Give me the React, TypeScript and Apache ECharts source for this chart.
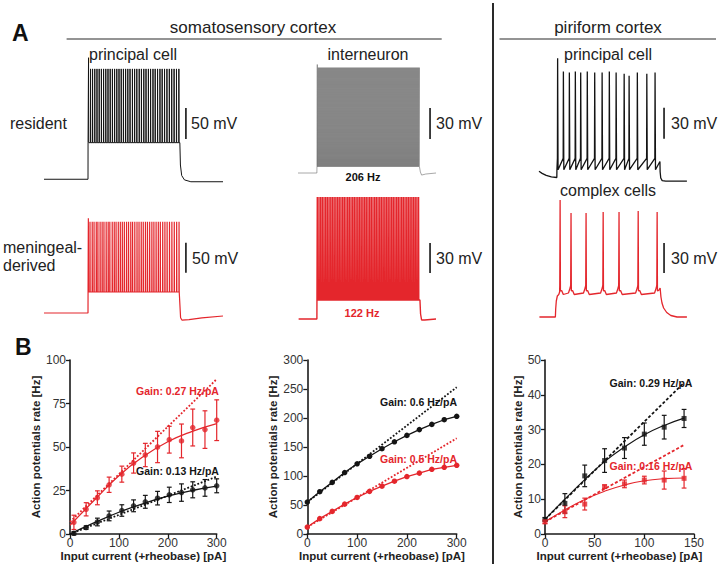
import React, { useEffect, useRef } from "react";
import * as echarts from "echarts";

// ================= Panel A: membrane-potential traces (time in ms, voltage in mV) =================
// somatosensory cortex, principal cell, resident (black)
const resPrincipalSpikes = [242, 253, 264, 276, 288, 300, 312, 324, 336, 348, 360, 372, 384, 396, 408, 420, 432, 444, 456, 468, 481, 493, 505, 518, 530, 543, 555, 568, 580, 593, 605, 618, 631, 643, 656, 669, 682, 695, 708, 721, 734];
const resPrincipalPulse = [240, 740];
const resPrincipalLevels = [-68, -9, 110, 128]; // rest, plateau trough, peak, first peak
const resPrincipalTail: [number, number][] = [[743, -45], [750, -62], [765, -69], [800, -72], [975, -72]];

// somatosensory cortex, principal cell, meningeal-derived (red)
const menPrincipalSpikes = [241, 250, 262, 272, 284, 293, 305, 316, 326, 338, 349, 358, 371, 382, 392, 404, 415, 426, 437, 449, 460, 472, 482, 494, 506, 517, 529, 540, 552, 563, 575, 587, 598, 610, 622, 633, 646, 658, 670, 683, 696, 709, 722, 735];
const menPrincipalPulse = [240, 740];
const menPrincipalLevels = [-70, -35, 82, 88];
const menPrincipalTail: [number, number][] = [[744, -78], [752, -82], [790, -81], [860, -78], [975, -75]];

// somatosensory cortex, interneurons (firing rates printed in the figure)
const resInterRateHz = 206;
const menInterRateHz = 122;
const resInterPulse = [92, 592];
const menInterPulse = [92, 592];
const resInterLevels = [-65, -59, 37, 40];
const menInterLevels = [-65, -46, 57, 57];
const resInterTail: [number, number][] = [[594, -64], [600, -67], [620, -66], [670, -65]];
const menInterTail: [number, number][] = [[595, -60], [600, -66], [615, -66], [670, -65]];

// piriform cortex, principal cell (black)
const pirPrincipalPre: [number, number][] = [[0, -63.5], [15, -65.5], [35, -67.5], [60, -69], [86.5, -69.5]];
const pirPrincipalSpikes = [90, 118, 147, 176, 202, 234, 270, 306, 341, 374, 413, 437, 477, 523, 563];
const pirPrincipalPeaks = [46, 33, 32, 33, 32, 33, 32, 32, 33, 32, 31, 29, 32, 31, 32];
const pirPrincipalPulse = [87, 587];
const pirPrincipalLevels = [-62, -51]; // trough, threshold
const pirPrincipalTail: [number, number][] = [[588, -64], [591, -70], [598, -72.5], [615, -73], [718, -73]];

// piriform cortex, complex cell (red)
const complexPre: [number, number][] = [[2, -70], [79.5, -70]];
const complexOnset: [number, number][] = [[81, -62], [84, -54], [89, -49], [96, -47.5], [100, -45]];
const complexSpikes = [102, 155, 228, 311, 388, 481, 573];
const complexPeaks = [47, 34, 34, 35, 35, 36, 35];
const complexLevels = [-44, -47.5, -41]; // after spike, dip, pre-spike
const complexOffset = 590;
const complexTail: [number, number][] = [[592, -50], [597, -56], [605, -61], [620, -65.5], [640, -68.5], [670, -70], [718, -70]];

// ================= Panel B: f-I curves =================
const p1X = [8, 33, 56, 80, 106, 130, 154, 179, 203, 228, 251, 276, 300];
const p1RedMean = [6.7, 14.2, 20.8, 28.3, 34.4, 40.8, 45.4, 50, 54.2, 53.5, 61.2, 60, 65.4];
const p1RedErr = [4.1, 3.8, 4, 4.4, 4.6, 5.8, 6.7, 9, 7.7, 9.7, 10.6, 10.8, 11.7];
const p1BlackMean = [0.4, 3.7, 6.9, 10.4, 13.5, 16.2, 18.5, 20.6, 22.5, 23.8, 25.4, 26.5, 27.7];
const p1BlackErr = [1, 1, 2.2, 2.8, 3.3, 3.4, 3.7, 3.9, 4.4, 5, 4.6, 4.8, 4];
const p1FitX = [0, 50, 100, 150, 200, 250, 300];
const p1RedFit = [5, 19.5, 33.5, 44.5, 53, 59, 63.5];
const p1BlackFit = [0, 6.5, 12.5, 17.5, 21.7, 25, 27.5];
const p1RedGain: [number, number][] = [[0, 7], [300, 89]];
const p1BlackGain: [number, number][] = [[0, 0], [300, 33]];

const p2X = [0, 25, 50, 75, 100, 125, 150, 175, 200, 225, 250, 275, 300];
const p2Black = [55, 73, 89, 106, 121, 134, 147, 159, 170, 180, 189, 197, 203];
const p2Red = [12, 26.5, 39, 51.5, 63, 73.5, 82.5, 91, 99, 105, 111.5, 115, 118.5];
const p2BlackGain: [number, number][] = [[0, 55], [300, 253]];
const p2RedGain: [number, number][] = [[0, 12], [300, 165]];

const p3X = [0, 20, 40, 60, 80, 100, 120, 140];
const p3Black = [4.2, 8.8, 16.7, 21.1, 24.7, 28.7, 30.7, 33.2];
const p3BlackErr = [0.5, 2.8, 3.1, 3.4, 3, 3.2, 3.4, 2.6];
const p3Red = [3.5, 6.4, 8.6, 13.6, 14.4, 15.5, 15.5, 16];
const p3RedErr = [0.5, 1.7, 1.7, 0.5, 1.1, 1.1, 2.6, 2.8];
const p3BlackFit = [4.2, 10, 15.6, 20.8, 25, 28.5, 31.2, 33.3];
const p3RedFit = [3.5, 6.9, 9.9, 12.3, 14.1, 15.3, 15.9, 16.1];
const p3BlackGain: [number, number][] = [[0, 4.2], [140, 43.5]];
const p3RedGain: [number, number][] = [[0, 3.5], [140, 25.6]];

const gainLabels = ["Gain: 0.27 Hz/pA", "Gain: 0.13 Hz/pA", "Gain: 0.6 Hz/pA", "Gain: 0.5 Hz/pA", "Gain: 0.29 Hz/pA", "Gain: 0.16 Hz/pA"];

// ================= styling / layout =================
const RED = "#e4262c";
const BLACK = "#141414";
const GRAY = "#606060";
const TXT = "#222";
const FONT = "'Liberation Sans', Arial, Helvetica, sans-serif";

type Pt = [number, number];

function denseTrain(rest: number, pulse: number[], trough: number, spikes: number[], peak: number, firstPeak: number, tail: Pt[], startT = 0): Pt[] {
  const pts: Pt[] = [[startT, rest], [pulse[0] - 0.3, rest], [pulse[0], trough]];
  spikes.forEach((t, i) => {
    pts.push([t, trough], [t + 0.6, i === 0 ? firstPeak : peak], [t + 1.6, trough]);
  });
  pts.push([pulse[1], trough]);
  return pts.concat(tail);
}

function rateSpikes(rateHz: number, pulse: number[]): number[] {
  const n = Math.floor(((pulse[1] - pulse[0]) * rateHz) / 1000);
  const out: number[] = [];
  for (let i = 0; i < n; i++) out.push(pulse[0] + 1 + (i * 1000) / rateHz);
  return out;
}

function sawTrain(pre: Pt[], pulse: number[], spikes: number[], peaks: number[], trough: number, threshold: number, tail: Pt[]): Pt[] {
  const pts: Pt[] = [...pre, [pulse[0], trough]];
  spikes.forEach((t, i) => {
    pts.push([t - 0.6, threshold], [t + 0.4, peaks[i]], [t + 2.5, trough]);
  });
  pts.push([pulse[1], threshold - 3]);
  return pts.concat(tail);
}

function complexTrain(): Pt[] {
  const [afterV, dipV, preV] = complexLevels;
  const pts: Pt[] = [...complexPre, ...complexOnset];
  complexSpikes.forEach((t, i) => {
    pts.push([t - 1.2, preV + 3], [t + 0.5, complexPeaks[i]], [t + 2, afterV], [t + 8, afterV + 0.5]);
    const next = complexSpikes[i + 1];
    if (next !== undefined) {
      pts.push([t + 16, dipV], [next - 12, dipV + 1.5], [next - 4, preV]);
    } else {
      pts.push([complexOffset - 2, preV]);
    }
  });
  return pts.concat(complexTail);
}

const traceLayouts = [
  { left: 44, top: 50, width: 179, height: 140, msPerPx: 975 / 179, anchorPx: 180.5, anchorMv: -70, mvPerPx: 50 / 31 },
  { left: 44, top: 200, width: 179, height: 130, msPerPx: 975 / 179, anchorPx: 313, anchorMv: -70, mvPerPx: 50 / 30 },
  { left: 298, top: 55, width: 138, height: 130, msPerPx: 500 / 103, anchorPx: 173, anchorMv: -65, mvPerPx: 30 / 31 },
  { left: 298, top: 185, width: 138, height: 145, msPerPx: 500 / 103, anchorPx: 319, anchorMv: -65, mvPerPx: 1 },
  { left: 539, top: 45, width: 148, height: 145, msPerPx: 500 / 103, anchorPx: 178, anchorMv: -70, mvPerPx: 30 / 31 },
  { left: 539, top: 185, width: 148, height: 140, msPerPx: 500 / 103, anchorPx: 317, anchorMv: -70, mvPerPx: 1 },
];
// scale bars: [time, bottom mV, length mV]
const scaleBars = [[773, -3, 50], [773, -3, 50], [641, -32, 30], [641, -19, 30], [607, -32, 30], [607, -26, 30]];

const plotLayouts = [
  { left: 70, top: 360, width: 146.7, height: 174 },
  { left: 307.3, top: 360, width: 149.4, height: 174 },
  { left: 545, top: 360, width: 149, height: 174 },
];

function buildOption() {
  const grid: any[] = [];
  const xAxis: any[] = [];
  const yAxis: any[] = [];
  const series: any[] = [];

  const traces: { pts: Pt[]; color: string; width: number }[] = [
    { pts: denseTrain(resPrincipalLevels[0], resPrincipalPulse, resPrincipalLevels[1], resPrincipalSpikes, resPrincipalLevels[2], resPrincipalLevels[3], resPrincipalTail), color: BLACK, width: 1.0 },
    { pts: denseTrain(menPrincipalLevels[0], menPrincipalPulse, menPrincipalLevels[1], menPrincipalSpikes, menPrincipalLevels[2], menPrincipalLevels[3], menPrincipalTail), color: RED, width: 1.2 },
    { pts: denseTrain(resInterLevels[0], resInterPulse, resInterLevels[1], rateSpikes(resInterRateHz, resInterPulse), resInterLevels[2], resInterLevels[3], resInterTail), color: GRAY, width: 0.55 },
    { pts: denseTrain(menInterLevels[0], menInterPulse, menInterLevels[1], rateSpikes(menInterRateHz, menInterPulse), menInterLevels[2], menInterLevels[3], menInterTail, 3), color: RED, width: 1.4 },
    { pts: sawTrain(pirPrincipalPre, pirPrincipalPulse, pirPrincipalSpikes, pirPrincipalPeaks, pirPrincipalLevels[0], pirPrincipalLevels[1], pirPrincipalTail), color: BLACK, width: 1.3 },
    { pts: complexTrain(), color: RED, width: 1.3 },
  ];

  traceLayouts.forEach((L, i) => {
    grid.push({ left: L.left, top: L.top, width: L.width, height: L.height, containLabel: false });
    xAxis.push({ gridIndex: i, type: "value", min: 0, max: L.width * L.msPerPx, show: false });
    yAxis.push({
      gridIndex: i, type: "value", show: false,
      min: L.anchorMv - (L.top + L.height - L.anchorPx) * L.mvPerPx,
      max: L.anchorMv + (L.anchorPx - L.top) * L.mvPerPx,
    });
    series.push({
      type: "line", xAxisIndex: i, yAxisIndex: i, data: traces[i].pts, showSymbol: false, symbol: "none",
      lineStyle: { color: traces[i].color, width: traces[i].width }, silent: true, progressive: 0,
    });
    const sb = scaleBars[i];
    series.push({
      type: "line", xAxisIndex: i, yAxisIndex: i, data: [[sb[0], sb[1]], [sb[0], sb[1] + sb[2]]], showSymbol: false, symbol: "none",
      lineStyle: { color: BLACK, width: 1.6 }, silent: true,
    });
  });

  const axisCommon = {
    axisLine: { show: true, onZero: false, lineStyle: { color: "#1a1a1a", width: 1.6 } },
    axisTick: { show: true, length: 4, lineStyle: { color: "#1a1a1a", width: 1.3 } },
    splitLine: { show: false },
    nameTextStyle: { fontFamily: FONT, fontWeight: "bold", fontSize: 11.5, color: TXT },
  };
  const plotAxes = [
    { xMax: 300, xInt: 100, yMax: 100, yInt: 25 },
    { xMax: 300, xInt: 100, yMax: 300, yInt: 50 },
    { xMax: 150, xInt: 50, yMax: 50, yInt: 10 },
  ];
  plotLayouts.forEach((L, k) => {
    const gi = 6 + k;
    const A = plotAxes[k];
    grid.push({ left: L.left, top: L.top, width: L.width, height: L.height, containLabel: false });
    xAxis.push({
      gridIndex: gi, type: "value", min: 0, max: A.xMax, interval: A.xInt, ...axisCommon,
      name: "Input current (+rheobase) [pA]", nameLocation: "middle", nameGap: 15,
      axisLabel: { fontFamily: FONT, fontSize: 12, color: "#333", margin: 3 },
    });
    yAxis.push({
      gridIndex: gi, type: "value", min: 0, max: A.yMax, interval: A.yInt, ...axisCommon,
      name: "Action potentials rate [Hz]", nameLocation: "middle", nameGap: 21,
      axisLabel: { fontFamily: FONT, fontSize: 12, color: "#333", margin: 4 },
    });
  });

  const zip = (xs: number[], ys: number[]) => xs.map((x, i) => [x, ys[i]]);
  const zip3 = (xs: number[], ys: number[], es: number[]) => xs.map((x, i) => [x, ys[i], es[i]]);
  const fitLine = (gi: number, data: any[], color: string, width = 1.3) => ({
    type: "line", xAxisIndex: gi, yAxisIndex: gi, data, smooth: true, showSymbol: false, symbol: "none",
    lineStyle: { color, width }, silent: true, z: 3,
  });
  const gainLine = (gi: number, data: any[], color: string, type: any) => ({
    type: "line", xAxisIndex: gi, yAxisIndex: gi, data, showSymbol: false, symbol: "none",
    lineStyle: { color, width: 1.8, type }, silent: true, z: 2,
  });
  const points = (gi: number, data: any[], color: string, symbol = "circle", size = 5.5) => ({
    type: "scatter", xAxisIndex: gi, yAxisIndex: gi, data, symbol, symbolSize: size,
    itemStyle: { color }, silent: true, z: 5,
  });
  const errBars = (gi: number, data: any[], color: string) => ({
    type: "custom", xAxisIndex: gi, yAxisIndex: gi, data, silent: true, z: 4,
    encode: { x: 0, y: 1 },
    renderItem: (params: any, api: any) => {
      const x = api.value(0), y = api.value(1), e = api.value(2);
      const top = api.coord([x, y + e]);
      const bot = api.coord([x, y - e]);
      const w = 2.4;
      const st = { stroke: color, lineWidth: 1.2 };
      return {
        type: "group",
        children: [
          { type: "line", shape: { x1: top[0], y1: top[1], x2: bot[0], y2: bot[1] }, style: st },
          { type: "line", shape: { x1: top[0] - w, y1: top[1], x2: top[0] + w, y2: top[1] }, style: st },
          { type: "line", shape: { x1: bot[0] - w, y1: bot[1], x2: bot[0] + w, y2: bot[1] }, style: st },
        ],
      };
    },
  });

  // plot 1
  series.push(gainLine(6, p1RedGain, RED, "dotted"), gainLine(6, p1BlackGain, BLACK, "dotted"));
  series.push(fitLine(6, zip(p1FitX, p1RedFit), RED), fitLine(6, zip(p1FitX, p1BlackFit), BLACK));
  series.push(errBars(6, zip3(p1X, p1RedMean, p1RedErr), RED), errBars(6, zip3(p1X, p1BlackMean, p1BlackErr), BLACK));
  series.push(points(6, zip(p1X, p1RedMean), RED), points(6, zip(p1X, p1BlackMean), BLACK));
  // plot 2
  series.push(gainLine(7, p2BlackGain, BLACK, "dotted"), gainLine(7, p2RedGain, RED, "dotted"));
  series.push({
    type: "line", xAxisIndex: 7, yAxisIndex: 7, data: zip(p2X, p2Black), symbol: "circle", symbolSize: 5.5, showSymbol: true,
    lineStyle: { color: BLACK, width: 1.3 }, itemStyle: { color: BLACK }, silent: true, z: 4,
  });
  series.push({
    type: "line", xAxisIndex: 7, yAxisIndex: 7, data: zip(p2X, p2Red), symbol: "circle", symbolSize: 5.5, showSymbol: true,
    lineStyle: { color: RED, width: 1.3 }, itemStyle: { color: RED }, silent: true, z: 4,
  });
  // plot 3
  series.push(gainLine(8, p3BlackGain, BLACK, [3, 2]), gainLine(8, p3RedGain, RED, [3, 2]));
  series.push(fitLine(8, zip(p3X, p3BlackFit), BLACK, 1.1), fitLine(8, zip(p3X, p3RedFit), RED, 1.1));
  series.push(errBars(8, zip3(p3X, p3Black, p3BlackErr), BLACK), errBars(8, zip3(p3X, p3Red, p3RedErr), RED));
  series.push(points(8, zip(p3X, p3Black), BLACK, "rect", 5), points(8, zip(p3X, p3Red), RED, "rect", 5));

  const text = (t: string, x: number, y: number, size: number, opts: any = {}) => ({
    type: "text", x, y, silent: true, z: 100,
    style: {
      text: t, fontFamily: FONT, fontSize: size, fontWeight: opts.bold ? "bold" : "normal",
      fill: opts.color || TXT,
      align: opts.align || "left", verticalAlign: "middle",
      textAlign: opts.align || "left", textVerticalAlign: "middle",
    },
  });
  const line = (x1: number, y1: number, x2: number, y2: number, w: number) => ({
    type: "line", silent: true, z: 100, shape: { x1, y1, x2, y2 }, style: { stroke: "#2a2a2a", lineWidth: w },
  });

  const elements: any[] = [
    text("A", 12, 33, 23, { bold: true, color: "#111" }),
    text("somatosensory cortex", 253, 27, 17, { align: "center" }),
    text("piriform cortex", 608, 27, 17, { align: "center" }),
    line(66.6, 39, 441.7, 39, 1.2),
    line(499.5, 39, 716, 39, 1.2),
    line(493, 3, 493, 564, 2),
    text("principal cell", 133, 54, 16, { align: "center" }),
    text("interneuron", 368, 54, 16, { align: "center" }),
    text("principal cell", 608, 54, 16, { align: "center" }),
    text("resident", 10, 123, 16),
    text("meningeal-", 3, 247, 16),
    text("derived", 3, 265, 16),
    text("50 mV", 191, 123, 16),
    text("30 mV", 436, 123, 16),
    text("30 mV", 671, 123, 16),
    text("50 mV", 192, 258, 16),
    text("30 mV", 436, 258, 16),
    text("30 mV", 671, 258, 16),
    text("206 Hz", 363, 177, 11, { bold: true, align: "center", color: "#111" }),
    text("122 Hz", 362, 313, 11, { bold: true, align: "center", color: RED }),
    text("complex cells", 608, 190, 16, { align: "center" }),
    text("B", 15, 347, 23, { bold: true, color: "#111" }),
    text(gainLabels[0], 177.5, 391, 10.5, { bold: true, align: "center", color: RED }),
    text(gainLabels[1], 177.5, 471, 10.5, { bold: true, align: "center", color: BLACK }),
    text(gainLabels[2], 418.5, 402, 10.5, { bold: true, align: "center", color: BLACK }),
    text(gainLabels[3], 418.5, 459, 10.5, { bold: true, align: "center", color: RED }),
    text(gainLabels[4], 651, 383, 10.5, { bold: true, align: "center", color: BLACK }),
    text(gainLabels[5], 651, 466, 10.5, { bold: true, align: "center", color: RED }),
  ];

  return {
    animation: false,
    backgroundColor: "#ffffff",
    grid, xAxis, yAxis, series,
    graphic: { elements },
  };
}

export default function App() {
  const ref = useRef<HTMLDivElement>(null);
  useEffect(() => {
    document.body.style.margin = "0";
    const chart = echarts.init(ref.current as HTMLDivElement, null, { renderer: "svg" });
    chart.setOption(buildOption() as any);
    return () => chart.dispose();
  }, []);
  return <div ref={ref} style={{ width: 720, height: 564 }} />;
}
